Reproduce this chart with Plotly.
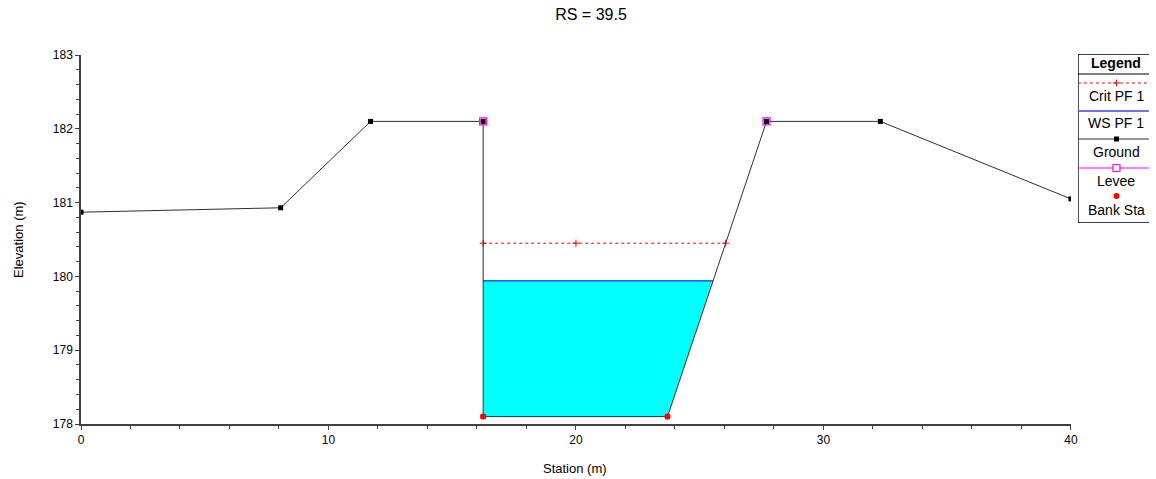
import numpy as np
import plotly.graph_objects as go

# ---------------- data ----------------
ground_x = [0, 8.07, 11.7, 16.25, 16.25, 23.7, 27.7, 32.3, 40]
ground_y = [180.87, 180.93, 182.1, 182.1, 178.1, 178.1, 182.1, 182.1, 181.05]
ws_elev = 179.94
crit_elev = 180.45
crit_mid_x = 20.0
levee_x = [16.25, 27.7]
levee_y = [182.1, 182.1]
bank_x = [16.25, 23.7]
bank_y = [178.1, 178.1]
legend_names = ["Crit PF 1", "WS PF 1", "Ground", "Levee", "Bank Sta"]

FONT = "Liberation Sans, Arial, sans-serif"


def rising_crossing(xs, ys, level, x0):
    for i in range(len(xs) - 1):
        xa, ya, xb, yb = xs[i], ys[i], xs[i + 1], ys[i + 1]
        if xa >= x0 and ya < level < yb:
            t = (level - ya) / (yb - ya)
            return xa + t * (xb - xa)
    return None


chan_left = bank_x[0]
ws_right = rising_crossing(ground_x, ground_y, ws_elev, chan_left)
crit_right = rising_crossing(ground_x, ground_y, crit_elev, chan_left)

poly_x = [chan_left]
poly_y = [ws_elev]
for xv, yv in zip(ground_x, ground_y):
    if chan_left <= xv <= ws_right and yv <= ws_elev:
        poly_x.append(xv)
        poly_y.append(yv)
poly_x += [ws_right, chan_left]
poly_y += [ws_elev, ws_elev]

fig = go.Figure()

# water fill
fig.add_trace(go.Scatter(x=poly_x, y=poly_y, mode="lines", fill="toself",
                         fillcolor="#00FFFF", line=dict(width=0), hoverinfo="skip",
                         showlegend=False))
# WS line
fig.add_trace(go.Scatter(x=[chan_left, ws_right], y=[ws_elev, ws_elev], mode="lines",
                         line=dict(color="#0000FF", width=1), showlegend=False))
# crit line
fig.add_trace(go.Scatter(x=[chan_left, crit_right], y=[crit_elev, crit_elev], mode="lines",
                         line=dict(color="#FF0000", width=1, dash="3px,3px"), showlegend=False))
fig.add_trace(go.Scatter(x=[chan_left, crit_mid_x, crit_right], y=[crit_elev] * 3, mode="markers",
                         marker=dict(symbol="cross-thin", size=5, color="#FF0000",
                                     line=dict(color="#FF0000", width=1)),
                         showlegend=False))
# ground
fig.add_trace(go.Scatter(x=ground_x, y=ground_y, mode="lines+markers",
                         line=dict(color="#303030", width=1),
                         marker=dict(symbol="square", size=5, color="#000000"),
                         showlegend=False))
# levee
fig.add_trace(go.Scatter(x=levee_x, y=levee_y, mode="markers",
                         marker=dict(symbol="square-open", size=7, color="#FF00FF",
                                     line=dict(color="#FF00FF", width=1.2)),
                         showlegend=False))
# bank sta
fig.add_trace(go.Scatter(x=bank_x, y=bank_y, mode="markers",
                         marker=dict(symbol="circle", size=6, color="#FF0000"),
                         showlegend=False))

# ---------------- custom legend (pixel-space axes) ----------------
PLOT_L = 81
USABLE_R = 1148  # measured right edge of the drawable paper area
W = USABLE_R - PLOT_L
L, R, T, B = 1077, 1154, 54, 223
line_ys = [83, 111, 139, 168]
text_ys = [96, 123, 152, 181, 210]
CX = (L + R) / 2

fig.add_trace(go.Scatter(x=[CX], y=[line_ys[0]], mode="markers", xaxis="x2", yaxis="y2",
                         marker=dict(symbol="cross-thin", size=5, color="#FF0000",
                                     line=dict(color="#FF0000", width=1)), showlegend=False))
fig.add_trace(go.Scatter(x=[CX], y=[line_ys[2]], mode="markers", xaxis="x2", yaxis="y2",
                         marker=dict(symbol="square", size=5, color="#000000"), showlegend=False))
fig.add_trace(go.Scatter(x=[CX], y=[line_ys[3]], mode="markers", xaxis="x2", yaxis="y2",
                         marker=dict(symbol="square", size=7, color="white",
                                     line=dict(color="#FF00FF", width=1.2)), showlegend=False))
fig.add_trace(go.Scatter(x=[CX], y=[196], mode="markers", xaxis="x2", yaxis="y2",
                         marker=dict(symbol="circle", size=6, color="#FF0000"), showlegend=False))

shapes = [
    dict(type="rect", xref="x2", yref="y2", x0=L, x1=R, y0=T, y1=B,
         line=dict(color="#000000", width=1.5), fillcolor="rgba(0,0,0,0)", layer="below"),
    dict(type="line", xref="x2", yref="y2", x0=L, x1=R, y0=74, y1=74,
         line=dict(color="#000000", width=1)),
    dict(type="line", xref="x2", yref="y2", x0=L, x1=R, y0=line_ys[0], y1=line_ys[0],
         line=dict(color="#FF0000", width=1, dash="3px,3px"), layer="below"),
    dict(type="line", xref="x2", yref="y2", x0=L, x1=R, y0=line_ys[1], y1=line_ys[1],
         line=dict(color="#4040FF", width=1.5), layer="below"),
    dict(type="line", xref="x2", yref="y2", x0=L, x1=R, y0=line_ys[2], y1=line_ys[2],
         line=dict(color="#303030", width=1.2), layer="below"),
    dict(type="line", xref="x2", yref="y2", x0=L, x1=R, y0=line_ys[3], y1=line_ys[3],
         line=dict(color="#FF00FF", width=1.2), layer="below"),
]
annotations = [
    dict(text="<b>Legend</b>", xref="x2", yref="y2", x=CX, y=63, showarrow=False,
         xanchor="center", yanchor="middle",
         font=dict(family=FONT, size=14, color="#000000")),
]
for name, ty in zip(legend_names, text_ys):
    annotations.append(dict(text=name, xref="x2", yref="y2", x=CX, y=ty, showarrow=False,
                            xanchor="center", yanchor="middle",
                            font=dict(family=FONT, size=14, color="#000000")))

# axis titles
annotations.append(dict(text="Station (m)", xref="paper", yref="paper", x=(575 - PLOT_L) / W,
                        y=(424 - 468) / 370, showarrow=False, xanchor="center", yanchor="middle",
                        font=dict(family=FONT, size=13, color="#000000")))
annotations.append(dict(text="Elevation (m)", xref="paper", yref="paper", x=(18 - PLOT_L) / W,
                        y=(424 - 239) / 370, showarrow=False, textangle=-90,
                        xanchor="center", yanchor="middle",
                        font=dict(family=FONT, size=13, color="#000000")))

fig.update_layout(
    width=1156, height=479,
    margin=dict(l=PLOT_L, r=0, t=54, b=55),
    paper_bgcolor="white", plot_bgcolor="white",
    title=dict(text="RS = 39.5", x=591 / 1156, xref="container", xanchor="center",
               y=1 - 14 / 479, yref="container", yanchor="middle",
               font=dict(family=FONT, size=16, color="#000000")),
    font=dict(family=FONT, size=12, color="#000000"),
    xaxis=dict(domain=[0, (1070 - PLOT_L) / W], range=[0, 40], dtick=10, showgrid=False, zeroline=False,
               showline=True, linecolor="#404040", linewidth=1.5,
               ticks="outside", ticklen=4, tickcolor="#404040",
               minor=dict(ticks="outside", dtick=2, ticklen=3, tickcolor="#404040", showgrid=False),
               tickfont=dict(family=FONT, size=12, color="#000000")),
    yaxis=dict(domain=[0, 369 / 370], range=[178, 183], dtick=1, showgrid=False, zeroline=False,
               showline=True, linecolor="#404040", linewidth=1.5,
               ticks="outside", ticklen=4, tickcolor="#404040",
               minor=dict(ticks="outside", dtick=0.2, ticklen=3, tickcolor="#404040", showgrid=False),
               tickfont=dict(family=FONT, size=12, color="#000000")),
    xaxis2=dict(domain=[(L - PLOT_L) / W, 1.0], range=[L, USABLE_R], visible=False,
                anchor="y2", fixedrange=True),
    yaxis2=dict(domain=[(424 - B) / 370, 1.0], range=[B, T], visible=False,
                anchor="x2", fixedrange=True),
    shapes=shapes,
    annotations=annotations,
    showlegend=False,
)

fig.write_html("out.html")
